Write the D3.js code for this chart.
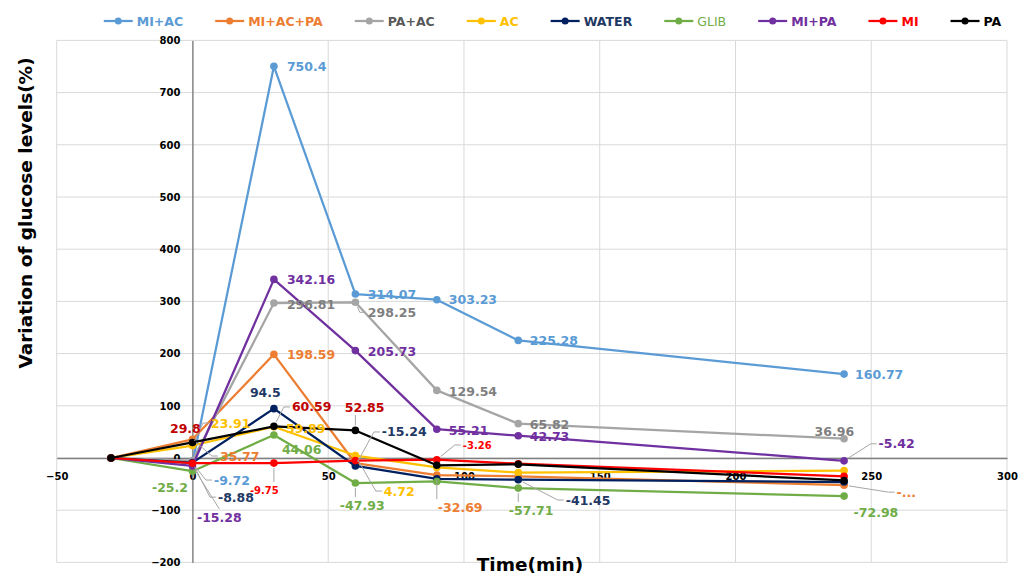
<!DOCTYPE html>
<html>
<head>
<meta charset="utf-8">
<script src="https://cdn.jsdelivr.net/npm/d3@7"></script>
<style>
  html, body { margin: 0; padding: 0; background: #ffffff; }
  svg { display: block; font-family: "DejaVu Sans", Verdana, sans-serif; }
</style>
</head>
<body>
<svg id="chart" width="1018" height="574"></svg>
<script>
// ---------- data ----------
const timeMin = [-30, 0, 30, 60, 90, 120, 240];
const seriesNames = ["MI+AC", "MI+AC+PA", "PA+AC", "AC", "WATER", "GLIB", "MI+PA", "MI", "PA"];
const miAc   = [0, -9.72, 750.4, 314.07, 303.23, 225.28, 160.77];
const miAcPa = [0, 35.77, 198.59, -10, -32.69, -35, -52];
const paAc   = [0, -5, 296.81, 298.25, 129.54, 65.82, 36.96];
const ac     = [0, 23.91, 59.89, 4.72, -18, -28, -24];
const water  = [0, -8.88, 94.5, -15.24, -40, -41.45, -46];
const glib   = [0, -25.2, 44.06, -47.93, -45, -57.71, -72.98];
const miPa   = [0, -15.28, 342.16, 205.73, 55.21, 42.73, -5.42];
const mi     = [0, -10, -9.75, -5, -3.26, -11, -35];
const pa     = [0, 29.8, 60.59, 52.85, -14, -12, -43];
const xTicks = [-50, 0, 50, 100, 150, 200, 250, 300];
const yTicks = [-200, -100, 0, 100, 200, 300, 400, 500, 600, 700, 800];

// ---------- styles ----------
const seriesValues = [miAc, miAcPa, paAc, ac, water, glib, miPa, mi, pa];
const lineColors  = ["#5b9bd5", "#ed7d31", "#a5a5a5", "#ffc000", "#002060", "#70ad47", "#7030a0", "#ff0000", "#000000"];
const labelColors = ["#5b9bd5", "#ed7d31", "#7f7f7f", "#ffc000", "#1f3864", "#70ad47", "#7030a0", "#ff0000", "#c00000"];
const legendTextColors = ["#5b9bd5", "#ed7d31", "#595959", "#ffc000", "#1f3864", "#70ad47", "#7030a0", "#ff0000", "#000000"];
const legendWeights = ["bold", "bold", "bold", "bold", "bold", "normal", "bold", "bold", "bold"];

// label placement: series index, point index, left-edge offset, centre-y offset, leader, small, text override
const labelLayout = [
  {s:0, i:1, dx:21.5, dy:17, leader:true},
  {s:0, i:2, dx:13, dy:0},
  {s:0, i:3, dx:12.5, dy:0},
  {s:0, i:4, dx:12, dy:0},
  {s:0, i:5, dx:11.5, dy:0},
  {s:0, i:6, dx:11, dy:0},
  {s:1, i:1, dx:27.5, dy:16.7, leader:true},
  {s:1, i:2, dx:13, dy:0.5},
  {s:1, i:4, dx:1, dy:32, leader:true},
  {s:1, i:6, dx:52.5, dy:7, leader:true, text:"-..."},
  {s:2, i:2, dx:13, dy:1},
  {s:2, i:3, dx:12.5, dy:10, leader:true},
  {s:2, i:4, dx:12, dy:1.5},
  {s:2, i:5, dx:11.5, dy:0.5},
  {s:2, i:6, dx:-29.5, dy:-7},
  {s:3, i:1, dx:18.5, dy:-22.5, leader:true},
  {s:3, i:2, dx:12, dy:2},
  {s:3, i:3, dx:28.5, dy:35.5, leader:true},
  {s:4, i:1, dx:25.5, dy:34.5, leader:true},
  {s:4, i:2, dx:-24, dy:-15.7},
  {s:4, i:3, dx:26.5, dy:-34, leader:true},
  {s:4, i:5, dx:47.5, dy:20.4, leader:true},
  {s:5, i:1, dx:-40.5, dy:16},
  {s:5, i:2, dx:8, dy:14},
  {s:5, i:3, dx:-15.5, dy:22, leader:true},
  {s:5, i:5, dx:-9.5, dy:22, leader:true},
  {s:5, i:6, dx:9.5, dy:16},
  {s:6, i:1, dx:4.5, dy:52, leader:true, top:true},
  {s:6, i:2, dx:13, dy:0.5},
  {s:6, i:3, dx:12.5, dy:0.5},
  {s:6, i:4, dx:12, dy:1},
  {s:6, i:5, dx:11.5, dy:1},
  {s:6, i:6, dx:34.5, dy:-17, leader:true},
  {s:7, i:2, dx:-24, dy:27, leader:true, small:true},
  {s:7, i:4, dx:26, dy:-14.7, leader:true, small:true},
  {s:8, i:1, dx:-22.5, dy:-14.4},
  {s:8, i:2, dx:18, dy:-19.4, leader:true},
  {s:8, i:3, dx:-10.5, dy:-23.4, leader:true}
];

// ---------- chart ----------
const svg = d3.select("#chart");
const x = d3.scaleLinear().domain([-50, 300]).range([56.7, 1007]);
const y = d3.scaleLinear().domain([-200, 800]).range([562.4, 40.4]);

// gridlines
const grid = svg.append("g");
grid.selectAll("line.v").data(xTicks).enter().append("line")
  .attr("x1", d => x(d)).attr("x2", d => x(d))
  .attr("y1", y(800)).attr("y2", y(-200))
  .attr("stroke", "#d9d9d9").attr("stroke-width", 1);
grid.selectAll("line.h").data(yTicks).enter().append("line")
  .attr("x1", x(-50)).attr("x2", x(300))
  .attr("y1", d => y(d)).attr("y2", d => y(d))
  .attr("stroke", "#d9d9d9").attr("stroke-width", 1);

// axes lines crossing at zero
const xAxis = d3.axisBottom(x).tickValues(xTicks).tickSize(0).tickPadding(0).tickFormat(d3.format("d"));
const gx = svg.append("g").attr("transform", `translate(0,${y(0)})`).call(xAxis);
gx.select(".domain").attr("stroke", "#7f7f7f").attr("stroke-width", 1.5);
gx.selectAll("text").attr("dy", null).attr("y", 22)
  .attr("font-family", "DejaVu Sans").attr("font-weight", "bold").attr("font-size", 10).attr("fill", "#000");

const yAxis = d3.axisLeft(y).tickValues(yTicks).tickSize(0).tickPadding(12).tickFormat(d3.format("d"));
const gy = svg.append("g").attr("transform", `translate(${x(0)},0)`).call(yAxis);
gy.select(".domain").attr("stroke", "#595959").attr("stroke-width", 1);
gy.selectAll("text")
  .attr("font-family", "DejaVu Sans").attr("font-weight", "bold").attr("font-size", 10).attr("fill", "#000");

// series
const line = d3.line().x((d, i) => x(timeMin[i])).y(d => y(d));
seriesValues.forEach((vals, s) => {
  const g = svg.append("g");
  g.append("path").datum(vals).attr("d", line)
    .attr("fill", "none").attr("stroke", lineColors[s]).attr("stroke-width", 2.25)
    .attr("stroke-linejoin", "round");
  g.selectAll("circle").data(vals).enter().append("circle")
    .attr("cx", (d, i) => x(timeMin[i])).attr("cy", d => y(d)).attr("r", 3.8)
    .attr("fill", lineColors[s]);
});

// data labels + leader lines
const leaderG = svg.append("g");
const labelG = svg.append("g");
labelLayout.forEach(L => {
  const v = seriesValues[L.s][L.i];
  const px = x(timeMin[L.i]), py = y(v);
  const t = labelG.append("text")
    .attr("x", px + L.dx).attr("y", py + L.dy).attr("dy", "0.36em")
    .attr("font-family", "DejaVu Sans").attr("font-weight", "bold")
    .attr("font-size", L.small ? 10 : 12.5)
    .attr("fill", labelColors[L.s])
    .text(L.text || String(v));
  if (L.leader) {
    const w = t.node().getComputedTextLength();
    const left = px + L.dx, right = left + w, cy = py + L.dy;
    let ax, ay, stub;
    if (L.top) { ax = left + w / 2; ay = cy - 9; stub = 0; }
    else if (left > px + 1) { ax = left - 2; ay = cy; stub = -6; }
    else if (right < px - 1) { ax = right + 2; ay = cy; stub = 6; }
    else { ax = px; ay = cy > py ? cy - 8 : cy + 8; stub = 0; }
    const bx = ax + stub, by = ay;
    const len = Math.hypot(bx - px, by - py) || 1;
    const sx = px + (bx - px) / len * 5, sy = py + (by - py) / len * 5;
    leaderG.append("polyline")
      .attr("points", `${sx},${sy} ${bx},${by} ${ax},${ay}`)
      .attr("fill", "none").attr("stroke", "#a6a6a6").attr("stroke-width", 1);
  }
});

// axis titles
svg.append("text").attr("x", 530).attr("y", 571).attr("text-anchor", "middle")
  .attr("font-family", "DejaVu Sans").attr("font-weight", "bold").attr("font-size", 18.5).attr("fill", "#000")
  .text("Time(min)");
svg.append("text").attr("transform", "translate(32,213) rotate(-90)").attr("text-anchor", "middle")
  .attr("font-family", "DejaVu Sans").attr("font-weight", "bold").attr("font-size", 18.5).attr("fill", "#000")
  .text("Variation of glucose levels(%)");

// legend
const legend = svg.append("g");
const items = [];
seriesNames.forEach((name, s) => {
  const g = legend.append("g");
  g.append("line").attr("x1", 0).attr("x2", 29).attr("y1", 0).attr("y2", 0)
    .attr("stroke", lineColors[s]).attr("stroke-width", 2.25);
  g.append("circle").attr("cx", 14.5).attr("cy", 0).attr("r", 3.5).attr("fill", lineColors[s]);
  const t = g.append("text").attr("x", 33).attr("y", 0).attr("dy", "0.36em")
    .attr("font-family", "DejaVu Sans").attr("font-weight", legendWeights[s]).attr("font-size", 12.5)
    .attr("fill", legendTextColors[s]).text(name);
  items.push({g, w: 33 + t.node().getComputedTextLength()});
});
const gap = 32;
const total = d3.sum(items, d => d.w) + gap * (items.length - 1);
let cx = 552.5 - total / 2;
items.forEach(it => { it.g.attr("transform", `translate(${cx},21)`); cx += it.w + gap; });
</script>
</body>
</html>
